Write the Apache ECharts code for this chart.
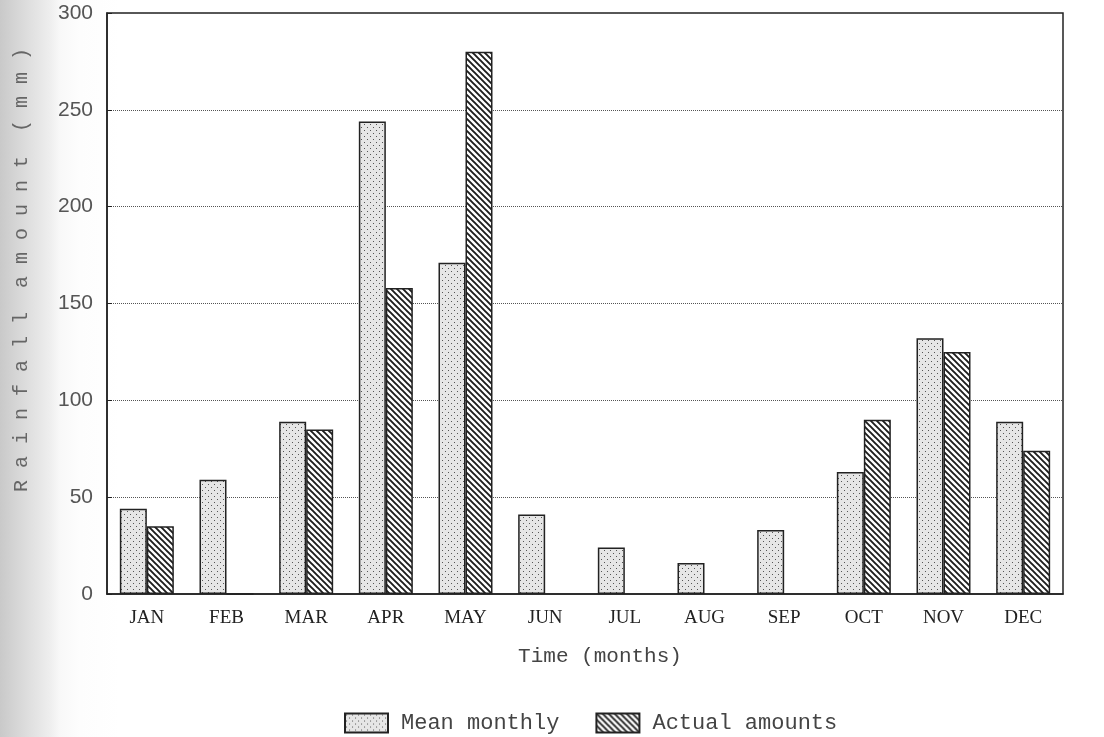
<!DOCTYPE html>
<html>
<head>
<meta charset="utf-8">
<script src="https://cdn.jsdelivr.net/npm/echarts@6/dist/echarts.min.js"></script>
<style>
html,body{margin:0;padding:0;}
body{width:1104px;height:737px;background:linear-gradient(to right,#c9c9c9 0px,#dcdcdc 25px,#eeeeee 50px,#f8f8f8 60px,#fdfdfd 80px,#ffffff 120px);}
#chart{width:1104px;height:737px;}
</style>
</head>
<body>
<div id="chart"></div>
<script>
const months = ['JAN','FEB','MAR','APR','MAY','JUN','JUL','AUG','SEP','OCT','NOV','DEC'];
const meanMonthly = [44, 59, 89, 244, 171, 41, 24, 16, 33, 63, 132, 89];
const actualAmounts = [35, 0, 85, 158, 280, null, null, null, null, 90, 125, 74];
const yTicks = [0, 50, 100, 150, 200, 250, 300];
const seriesNames = ['Mean monthly', 'Actual amounts'];
const xTitle = 'Time (months)';
const yTitle = 'R a i n f a l l  a m o u n t  ( m m )';

function dotPattern(){
  const c = document.createElement('canvas');
  c.width = 6; c.height = 6;
  const g = c.getContext('2d');
  g.fillStyle = '#e6e6e6'; g.fillRect(0,0,6,6);
  g.fillStyle = '#555';
  g.fillRect(1,1,1,1);
  g.fillRect(4,4,1,1);
  return c;
}
function hatchPattern(){
  const s = 6;
  const c = document.createElement('canvas');
  c.width = s; c.height = s;
  const g = c.getContext('2d');
  g.fillStyle = '#ffffff'; g.fillRect(0,0,s,s);
  g.strokeStyle = '#1e1e1e'; g.lineWidth = 1.9;
  g.beginPath();
  g.moveTo(-1,-1); g.lineTo(s+1,s+1);
  g.moveTo(-s-1,-1); g.lineTo(1,s+1);
  g.moveTo(s-1,-1); g.lineTo(2*s+1,s+1);
  g.stroke();
  return c;
}

const chart = echarts.init(document.getElementById('chart'), null, {renderer:'canvas'});
const option = {
  animation: false,
  backgroundColor: 'transparent',
  grid: {left:107, right:41, top:13, bottom:143, show:true, borderColor:'#222', borderWidth:1.5, backgroundColor:'transparent'},
  legend: {
    left: 339, top: 707,
    icon: 'rect',
    itemWidth: 43, itemHeight: 19, itemGap: 36,
    data: seriesNames,
    textStyle: {fontFamily:'Liberation Mono', fontSize:22, color:'#444', padding:[0,0,0,8]}
  },
  xAxis: {
    type: 'category',
    data: months,
    axisLine: {show:true, lineStyle:{color:'#222', width:1.5}},
    axisTick: {show:false},
    axisLabel: {fontFamily:'Liberation Serif', fontSize:19, color:'#222', margin:15},
    splitLine: {show:false}
  },
  yAxis: {
    type: 'value',
    min: yTicks[0], max: yTicks[yTicks.length-1], interval: 50,
    axisLine: {show:true, lineStyle:{color:'#222', width:1.5}},
    axisTick: {show:true, inside:true, length:5, lineStyle:{color:'#222'}},
    axisLabel: {fontFamily:'Liberation Sans', fontSize:21, color:'#555', margin:14},
    splitLine: {show:true, lineStyle:{color:'#555', type:'dotted', width:1}}
  },
  graphic: [
    {type:'text', x:22, y:270, rotation:Math.PI/2,
     style:{text:yTitle, fontFamily:'Liberation Mono', fontSize:20, fill:'#666', align:'center', verticalAlign:'middle'}},
    {type:'text', x:600, y:656,
     style:{text:xTitle, fontFamily:'Liberation Mono', fontSize:21, fill:'#444', align:'center', verticalAlign:'middle'}}
  ],
  series: [
    {name: seriesNames[0], type:'bar', data: meanMonthly, barWidth:27, barGap:'0%',
     itemStyle:{color:{image:dotPattern(), repeat:'repeat'}, borderColor:'#222', borderWidth:1.5}},
    {name: seriesNames[1], type:'bar', data: actualAmounts, barWidth:27, barGap:'0%',
     itemStyle:{color:{image:hatchPattern(), repeat:'repeat'}, borderColor:'#222', borderWidth:1.5}}
  ]
};
chart.setOption(option);
</script>
</body>
</html>
